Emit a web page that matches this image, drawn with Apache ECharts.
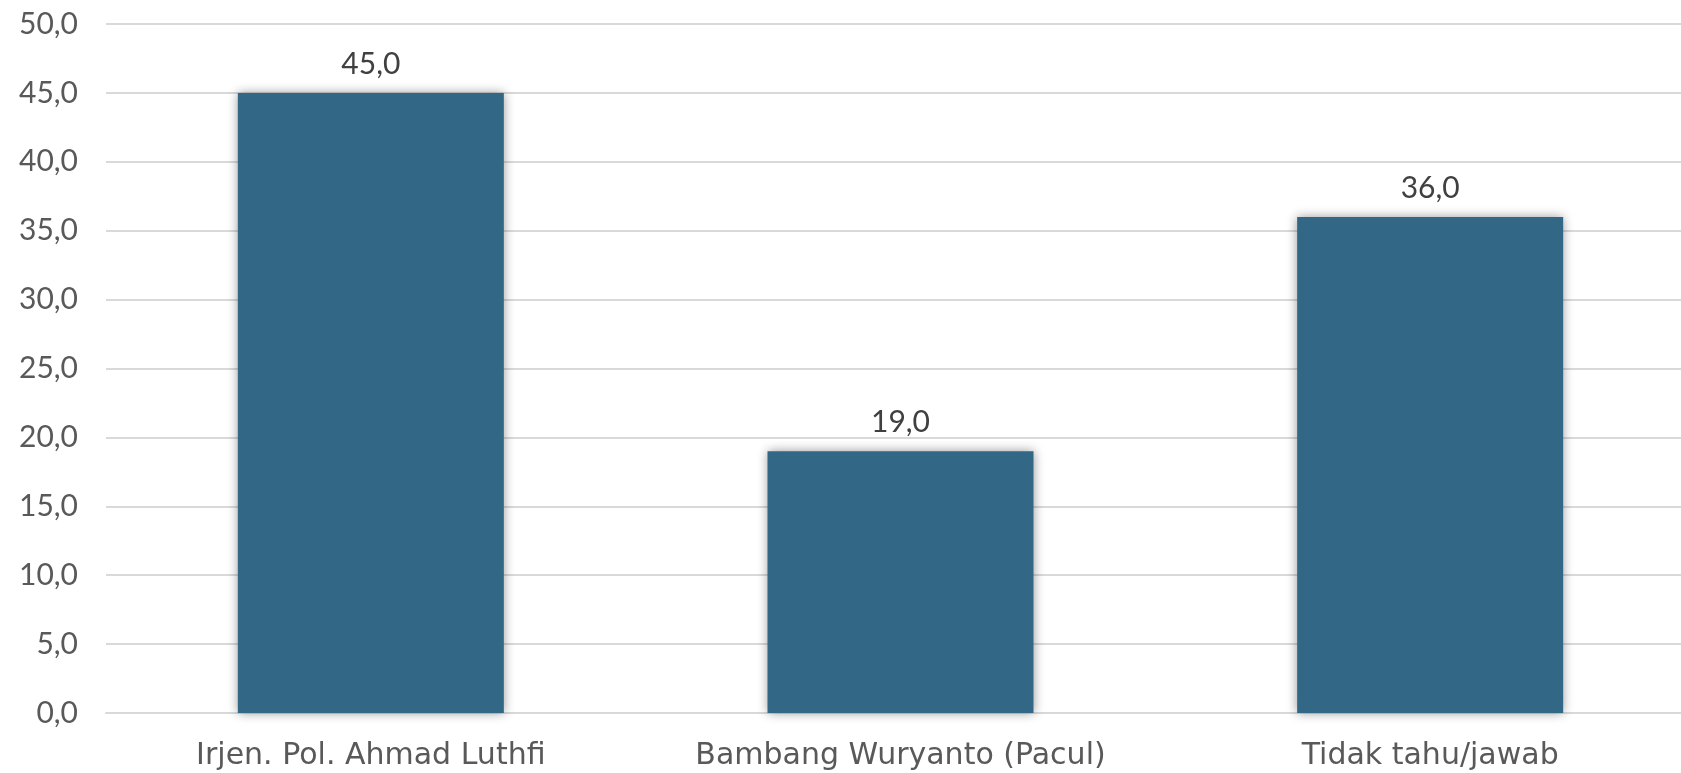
<!DOCTYPE html>
<html>
<head>
<meta charset="utf-8">
<script src="https://cdn.jsdelivr.net/npm/echarts@6/dist/echarts.min.js"></script>
<style>
  html, body { margin: 0; padding: 0; background: #fff; }
  #chart { width: 1681px; height: 773px; }
</style>
</head>
<body>
<div id="chart"></div>
<script>
// data
const categories = ['Irjen. Pol. Ahmad Luthfi', 'Bambang Wuryanto (Pacul)', 'Tidak tahu/jawab'];
const values = [45.0, 19.0, 36.0];

const fmt = v => Number(v).toFixed(1).replace('.', ',');
const numFont = 'Lato, "Open Sans", sans-serif';
const catFont = '"DejaVu Sans", sans-serif';

let chart = echarts.init(document.getElementById('chart'));
let option = {
  animation: false,
  grid: {
    left: 106,
    top: 24,
    width: 1589,
    bottom: 60,
    outerBoundsMode: 'none',
    containLabel: false
  },
  xAxis: {
    type: 'category',
    data: categories,
    axisLine: { lineStyle: { color: '#d9d9d9', width: 2 } },
    axisTick: { show: false },
    axisLabel: {
      interval: 0,
      hideOverlap: false,
      color: '#595959',
      fontSize: 30,
      fontFamily: catFont,
      margin: 28
    }
  },
  yAxis: {
    type: 'value',
    min: 0,
    max: 50,
    interval: 5,
    axisLine: { show: false },
    axisTick: { show: false },
    splitLine: { lineStyle: { color: '#d9d9d9', width: 2 } },
    axisLabel: {
      color: '#595959',
      fontSize: 30,
      fontFamily: numFont,
      margin: 28,
      formatter: fmt
    }
  },
  series: [
    {
      type: 'bar',
      data: values,
      barWidth: 266,
      itemStyle: {
        color: '#326785',
        shadowColor: 'rgba(0,0,0,0.4)',
        shadowBlur: 10
      },
      label: {
        show: true,
        position: 'top',
        distance: 14,
        color: '#404040',
        fontSize: 30,
        fontFamily: numFont,
        formatter: p => fmt(p.value)
      }
    }
  ]
};
chart.setOption(option);
</script>
</body>
</html>
